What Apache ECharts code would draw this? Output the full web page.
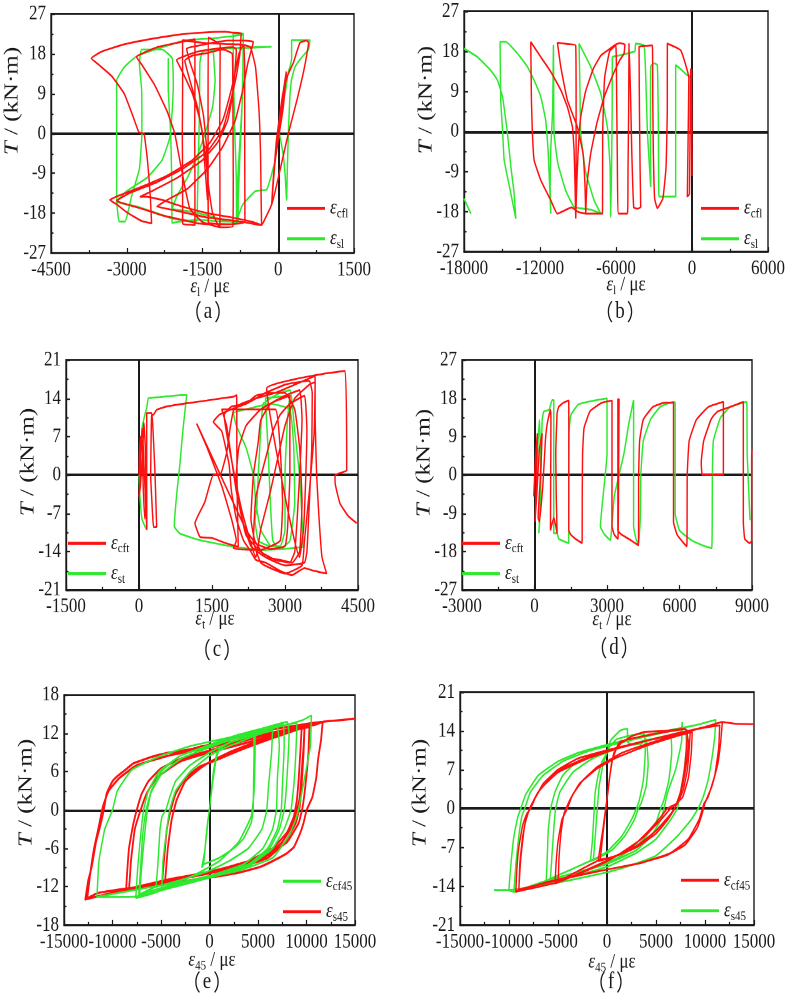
<!DOCTYPE html>
<html><head><meta charset="utf-8">
<script src="https://cdn.jsdelivr.net/npm/echarts@6/dist/echarts.min.js"></script>
<style>html,body{margin:0;padding:0;background:#fff}
#wrap{position:relative;width:788px;height:997px;overflow:visible}
#c{position:absolute;left:0;top:0;width:788px;height:798px;transform:scaleY(1.249373);transform-origin:0 0}</style>
</head><body><div id="wrap"><div id="c"></div></div>
<script>
// ---------- DATA ----------
const aCfl = [[0,0],[80,8],[160,14],[100,6],[-60,-6],[-130,-16],[-90,-9],[30,3],[140,12],[90,7],[-50,-4],[-110,-13],[-40,-2],[90,9],[180,13],[300,16],[430,20.5],[560,21],[600,20.5],[520,15],[380,8],[200,0],[60,-7],[-60,-13],[-130,-16],
[-250,-19],[-330,-20.7],[-450,-20.5],[-700,-20],[-1000,-19.5],[-1400,-19],[-1800,-18],[-2200,-17],[-2400,-16.5],[-2200,-15],[-1800,-12.5],[-1400,-8],[-1100,-3],[-850,3],[-700,10],[-600,16],[-495,20.7],
[-700,21],[-1000,21],[-1300,20.5],[-1600,19.8],[-1815,19.2],[-1760,16.5],[-1600,11],[-1480,4],[-1420,-3],[-1400,-10],[-1390,-15],[-1386,-20.5],
[-1600,-20.3],[-1900,-19.5],[-2300,-18.5],[-2700,-17],[-3000,-16],[-3200,-15.2],[-2950,-13.5],[-2400,-11],[-1900,-8],[-1400,-4],[-1100,1],[-950,7],[-830,13],[-760,18],[-735,22.6],
[-900,22.8],[-1056,23],[-1500,22.8],[-2000,22.3],[-2600,21.2],[-3100,20],[-3500,18.5],[-3700,17],[-3550,15.5],[-3300,13],[-3050,9],[-2880,4],[-2760,0.3],[-2660,0],[-2600,-5],[-2560,-10],[-2530,-15],[-2508,-20.3],
[-2700,-19.8],[-3000,-17.8],[-3200,-16],[-3333,-15],[-3150,-14],[-2700,-12],[-2200,-9.5],[-1700,-6],[-1350,-2],[-1100,3],[-950,9],[-850,14],[-780,18],[-700,20],
[-1000,20.2],[-1500,20.5],[-1894,21.1],[-1894,10],[-1900,0],[-1894,-10],[-1894,-20.4],
[-1750,-20.6],[-1650,-20.7],[-1650,-10],[-1655,0],[-1650,10],[-1650,21.3],
[-2000,20.5],[-2400,19.5],[-2805,17.3],[-2700,15.5],[-2450,11],[-2200,5],[-2050,0],[-1950,-6],[-1850,-12],[-1750,-17],[-1500,-20],[-1155,-21.2],
[-1155,-10],[-1160,0],[-1155,10],[-1150,20],[-1386,21.7],[-1390,5],[-1386,-20],[-1000,-20.5],[-660,-19.9],[-665,0],[-665,15],[-680,20],[-550,19.5],[-450,15],[-380,5],[-350,-5],[-340,-14],[-330,-20.7],
[-500,-20],[-900,-19],[-1400,-18],[-1900,-16.5],[-2300,-15],[-2600,-14.3],[-2739,-14.3],[-2500,-13],[-2000,-10],[-1500,-6],[-1200,-2],[-1000,3],[-900,9],[-850,15],[-830,19],[-900,19.5],[-1200,19.2],[-1600,18.5],[-2013,16.6],[-1900,14],[-1700,9],[-1550,3],[-1450,-4],[-1380,-12],[-1300,-18],[-1155,-21.2],
[-900,-21],[-891,-10],[-895,0],[-900,10],[-910,18],[-1100,19],[-1400,18.2],[-1700,17.6],[-1850,16.5],[-1750,12],[-1600,6],[-1500,0],[-1450,-8],[-1400,-15]];

const aSl = [[0,0],[80,6],[150,10],[200,14],[231,15],[265,17],[264,21.1],[450,21.1],[627,21.1],[600,19],[450,17],[330,15],[260,12],[231,8.4],[200,0],[180,-8],[165,-15],[140,-10],[100,-5],[20,0],[-60,-6],[-150,-10],[-231,-12.7],[-450,-13],
[-700,-16],[-800,-19],[-825,-20.3],[-830,-10],[-860,0],[-880,10],[-891,20],[-893,22.6],[-693,22.6],[-700,15],[-720,5],[-760,-5],[-792,-15],[-800,-20.3],
[-1100,-19.5],[-1400,-18.5],[-1800,-17.5],[-2100,-17],[-2000,-14],[-1800,-10],[-1600,-5],[-1450,0],[-1300,6],[-1250,12],[-1287,18.9],[-900,19.3],[-500,19.5],[-132,19.6],[-500,19.4],[-1000,19.2],[-1500,18.5],[-1551,16],[-1560,5],[-1580,-5],[-1600,-15],[-1617,-19.8],
[-1900,-19.5],[-2100,-19.2],[-2400,-18],[-2800,-16.5],[-3200,-15.4],[-3000,-13],[-2600,-10],[-2300,-6],[-2150,-1],[-2100,5],[-2080,10],[-2079,12],[-2100,17],[-2300,19],[-2706,19],[-2750,15.8],[-2706,10],[-2700,0],[-2750,-8],[-2900,-14],[-3036,-19.9],[-3150,-19.9],[-3200,-15],[-3200,-5],[-3200,5],[-3200,12],[-3050,15],[-2800,17.5],[-2300,19.5],[-1815,21.1],[-1300,21.5],[-900,22],[-693,22.4],
[-700,10],[-750,0],[-800,-10],[-820,-20],[-1200,-19.8],[-1600,-19.5],[-2000,-20],[-2100,-20.2],[-2110,-10],[-2130,0],[-2178,10],[-2178,17]];

const bCfl = [[0,-10],[-30,14],[-80,0],[-105,14],[-200,-14],[-368,-14.6],[-300,0],[-250,12],
[-894,18.2],[-1946,19.7],[-1950,5],[-2050,-8],[-2300,-15],[-2735,-17.2],[-2950,-15],[-3050,-5],[-3100,8],[-3130,19.3],
[-3600,19.2],[-4180,19],[-4150,5],[-4100,-8],[-4050,-16.9],[-4300,-17.3],[-4600,-17],[-4750,-5],[-4850,8],[-4970,19.7],
[-5000,5],[-5050,-8],[-5100,-18.4],[-5800,-18.4],[-5900,-5],[-5950,8],[-6020,19.3],
[-6500,18],[-6900,12],[-7050,0],[-7075,-18.4],[-8390,-18.4],[-8300,-12],[-8000,-5],[-7500,2],[-6900,8],[-6200,13],[-5700,16],[-5365,17.5],[-5300,19.5],[-5700,19.8],[-6000,19.5],
[-6500,18.5],[-7200,17],[-7800,14],[-8400,9],[-8800,3],[-9000,-5],[-9100,-12],[-9180,-19.5],
[-9150,-8],[-9150,5],[-9180,19.3],[-9800,19.6],[-10625,19.9],[-10360,14.5],[-9836,7],[-9046,1],[-8600,-5],[-8450,-12],[-8390,-18.4],
[-9000,-18],[-9500,-17],[-10630,-18.4],[-11150,-15.4],[-11940,-10.9],[-12466,-6.4],[-12600,-0.4],[-12676,7],[-12729,20.1],[-11940,16.7],[-11150,13.4],[-10360,9.3],[-9836,5.5],[-9440,1.0],[-9310,-4.2],[-9230,-12.4],[-9180,-19.5]];

const bSl = [[0,12.2],[-370,12.6],[-900,14],[-1290,14.9],[-1290,0],[-1290,-14.6],[-2000,-14.6],[-2600,-14.6],[-2650,0],[-2735,14.9],[-3000,15.3],[-3260,14.5],[-3280,0],[-3260,-12.4],[-3400,-6],[-3524,0],[-3650,12],[-3787,19.3],[-4450,19.7],[-4500,18],[-5100,17.5],[-5800,17],[-6286,16.7],[-6300,5],[-6350,-8],[-6417,-19.1],[-6470,-7.9],[-6680,1],[-7200,8.5],[-7995,14.5],[-8916,19.7],[-8850,10],[-8784,-0.4],[-8400,-9],[-7730,-15.4],[-7200,-18.4],[-8000,-17.5],[-9310,-16.9],[-10000,-13],[-10600,-7],[-10890,-0.4],[-10920,10],[-10940,19.3],[-11000,5],[-11150,-4],[-11200,-12.4],[-11150,-18.4],[-11360,-4.2],[-11550,2.5],[-11940,7.8],[-12470,11.5],[-12990,14.5],[-13780,17.5],[-14700,20.1],[-15150,20.1],[-15100,7],[-14950,0],[-14830,-6.4],[-14300,-13.9],[-13910,-19.5],[-14040,-13.9],[-14300,-7.9],[-14570,-0.4],[-14960,7.8],[-15360,11.5],[-15890,13.7],[-16940,16.7],[-18000,18.6],['-','-'],[-18000,-15],[-17460,-18.4]];

const cCft = [[0,0],[10,4],[30,7],[60,6],[90,-3],[120,-8],[140,-6],[100,2],[70,8.5],[40,6],[20,-1],[0,-4],[30,-2],[80,5],[100,9.5],[130,5],[160,-10],[158,0],[158,11.3],[260,11.3],[300,6],[330,0],[363,-9.5],[300,-9.5],[260,-4],[240,0],[260,11],[294,11],[363,11.9],[568,12.5],[980,13.1],[1390,13.6],[1700,14],[1940,14.3],[2007,14.6],[2010,5],[2020,-5],[2040,-13.1],
[1800,-12.5],[1500,-11.5],[1253,-11.3],[1150,-8.8],[1350,-5],[1527,0],[1665,0],[1800,4],[1880,9],[1950,12],[2100,13],[2400,14],[2800,15],[3200,16.5],[3617,18.1],[3620,10],[3650,0],[3700,-8],[3760,-15],[3856,-18],[3600,-17.5],[3400,-17],[3137,-18.3],[2900,-17.5],[2600,-16],[2400,-15.5],[2300,-14],[2150,-12],[2000,-8],[1900,-3],[1850,2],[1700,8],[1527,9.7],[1650,11],[1900,12],[2200,13],[2600,15],[3000,16.5],[3300,17],[3500,17.2],[3560,15],[3550,5],[3500,-5],[3450,-14],[3400,-16],
[3000,-16.5],[2600,-15],[2380,-12],[2300,-8],[2350,0],[2450,6],[2500,10],[2700,13],[3000,14.5],[3300,15.5],[3350,10],[3300,0],[3250,-8],[3200,-14],[3100,-16],[2800,-15.5],[2500,-14],[2200,-11],[2050,-5],[2000,0],[2050,5],[2200,9],[2500,12],[2800,13.5],[3100,14.5],[3100,0],[3050,-10],[3000,-13],[2700,-13.5],[2400,-12.5],[2200,-10],
[1185,9.4],[1400,5],[1700,-2],[1900,-8],[2000,-12],[1940,-13.4],[2487,-13.7],[2900,-12],[2950,-5],[2900,5],[2800,12],
[1700,12],[1800,9],[1900,3],[2000,-3],[2150,-9],[2300,-13],[2600,-15],[2900,-15.5],[3150,-16],[3300,-14],[3350,-5],[3300,5],[3200,12],[3000,15],[2700,15],[2400,14.5],[2200,13],[1900,12.5],[1750,11],
[2100,-6],[2400,-15],[2500,-10],[2700,-3],[2850,3],[3000,9],[3200,14],[3500,16.5],[3620,17],[3600,8],[3500,-3],[3400,-12],[3350,-16.5],[3000,-18],[2700,-17],[2500,-16],[2350,-12],[2400,-4],[2600,3],[2750,8],[2900,11],[3100,13],[3400,14.5],[3450,8],[3420,-2],[3380,-10],[3300,-15],
[2623,15.8],[3200,17.5],[3800,18.5],[4233,19],[4268,0.9],[4028,0],[4030,-1.5],[4130,-5.2],[4300,-7.5],[4473,-8.8]];

const cSt = [[0,0],[20,-4],[60,-8],[123,-9.4],[158,-10],[140,-5],[100,2],[55,8.2],[120,11],[158,12.2],[192,14],[400,14.2],[877,14.6],[980,14.6],[900,8],[842,2.1],[780,-3],[740,-7],[726,-9.4],[842,-10.7],[1253,-11.9],[1940,-13.1],[2555,-13.7],[3103,-13.4],[3300,-13.2],[3377,-13.1],[3350,-8],[3300,0],[3200,8],[3150,13],[3103,15.5],
[2900,15],[2700,14],[2550,13],[2500,8],[2450,0],[2420,-6],[2384,-8.2],[2450,-12],[2700,-13],[2900,-13],[3000,-10],[3000,0],[3050,10],[3100,14.5],
[2800,14.2],[2600,14],[2650,5],[2700,-5],[2750,-12],[2900,-13.5],[3100,-12],[3200,-5],[3180,5],[3100,12],
[2700,13],[2200,12],[1940,11.3],[2000,9],[2200,5],[2350,0],[2400,-5],[2500,-10],[2700,-13]];

const dCft = [[-30,-5],[40,4],[120,9.8],[80,0],[40,-8],[20,-11],[100,-4],[200,6],[316,9.8],[250,0],[150,-10],[200,-11],[350,-2],[450,8],[500,11],[560,13],[660,15.3],[680,13],[670,0],[660,-13],[700,-12],[800,-10],[935,-13.7],[900,-5],[880,5],[935,14.5],[1000,16],[1200,17],[1417,17.5],[1420,5],[1417,-13],[1500,-14],[1700,-15],[1968,-16],[1975,-5],[1990,5],[2050,11],[2300,15],[2800,17],[3206,17.5],[3206,0],[3206,-12],[3300,-14],[3450,-15],[3480,0],[3500,17.8],[3450,17.8],[3450,-13],[3600,-14],[3900,-15],[4300,-16.5],[4310,0],[4350,8],[4500,13],[4900,16],[5400,17],[5752,17],[5752,-11],[5900,-14],[6100,-15.5],[6302,-16.8],[6320,0],[6400,8],[6700,13],[7200,16],[7816,17.2],[7816,0],[6950,0],[6900,3],[7000,8],[7300,13],[7430,14.1],[7600,15],[8100,16],[8641,17.2],[8641,-11],[8700,-15],[8900,-16],[8985,-15.5],[8985,4.3],[9000,6]];

const dSt = [[100,2.7],[150,8],[200,12.9],[250,5],[220,-10],[180,-13.7],[250,-5],[316,12.9],[385,14.9],[600,15.3],[730,17.6],[798,17.6],[795,5],[798,-13.7],[935,-13.7],[1000,-15],[1417,-16],[1420,0],[1430,10],[1500,14],[1800,16.5],[2300,17.3],[3000,18],[3000,5],[2726,-12.1],[2900,-14],[3137,-15.3],[3300,-5],[3700,5],[3900,12],[4100,17.6],[4100,5],[4100,-12],[4200,-15],[4300,-16.3],[4380,-10],[4400,0],[4500,8],[4800,13],[5200,16],[5752,17.2],[5820,17],[5820,5],[5820,-9],[6000,-13],[6500,-15.3],[7000,-16.6],[7334,-17.2],[7360,0],[7400,8],[7700,13.5],[8100,16],[8779,17.2],[8800,5],[8917,-10.6]];

const eCf45 = [[-600,-8.5],[-400,-5],[-200,-2],[0,0],[200,3],[400,6],[700,8.5],[1000,9.5],[2000,10.5],[3500,11.3],[4500,11.8],[4600,10],[4550,5],[4500,0],[4300,-2],[3500,-4.5],[2500,-6],[1000,-7.5],[-600,-8.5],
[-800,-9],[-500,-6.5],[-100,-1],[300,4],[700,8],[1100,9.8],[2500,10.8],[4000,11.6],[4700,12],[4700,9],[4600,3],[4300,-1],[3000,-5],[1000,-8],[-2000,-10.5],[-5500,-12],
[-5300,-8],[-5100,-3],[-4900,-1],[-4700,-0.5],[-4500,0],[-4100,2],[-3500,4.5],[-2000,7],[0,9],[2000,10.5],[4000,11.5],[6000,12.5],[7000,13],[7200,10],[7000,5],[6900,0],[6500,-3],[5500,-6],[3500,-8.5],[0,-10.3],[-3000,-11.3],[-5500,-12],
[-7200,-13.2],[-7000,-9],[-6700,-4],[-6400,0],[-6000,3],[-5000,6],[-3000,8.5],[0,10],[3000,11.5],[6000,12.7],[7600,13.4],[7700,10],[7550,5],[7400,0],[7000,-3],[6000,-6],[4000,-8.5],[0,-10.3],[-4000,-11.8],[-7200,-13.2],
[-7600,-13.8],[-7400,-9],[-7100,-4],[-6800,0],[-6300,3],[-5200,6],[-3000,8.5],[0,10.2],[3000,11.8],[6000,13],[8000,13.8],[8200,12],[8100,8],[7900,3],[7700,0],[7200,-3],[6200,-6],[4000,-8.7],[0,-10.5],[-4000,-12],[-7600,-13.8],
[-5000,-12.5],[-4800,-8],[-4400,-3],[-4100,0],[-3500,3],[-2000,6],[0,8.5],[2000,10],[5000,11.8],[6500,12.5],[6400,9],[6100,4],[5900,0],[5400,-3],[4000,-6],[2000,-8],[0,-9.5],[-3000,-11],[-5000,-12.5],
[-7300,-13.5],[-7100,-9],[-6900,-4],[-6600,-0.5],[-6100,2.5],[-5000,5.5],[-3000,8],[0,9.8],[3000,11.4],[6000,12.6],[8800,13.6],[9000,13.5],[8900,9],[8700,4],[8400,0],[7700,-3],[6500,-6],[4000,-8.8],[0,-10.6],[-4000,-12.2],[-7300,-13.5],
[-11600,-13.6],[-11400,-8],[-10800,-3],[-10000,0],[-9500,3],[-8000,6.3],[-5000,8.5],[-2000,10],[1000,11],[4000,12],[7000,13],[9500,14],[10500,14.8],[10400,10],[9800,5],[9300,1],[9000,-1],[8200,-4],[6500,-7.5],[3000,-9.5],[0,-10.5],[-4000,-11.5],[-8000,-12.6],[-11600,-13.6]];

const eS45 = [[-4900,-11.6],[-4700,-8],[-4400,-3],[-4000,0],[-3500,2.5],[-2500,5],[-1000,6.8],[1000,8],[3500,9.6],[6000,11],[8500,12.3],[9500,12.8],[9400,10],[9200,5],[9000,1.5],[8700,-1],[8000,-3.5],[6500,-6],[4000,-8],[1000,-9.3],[-2000,-10.3],[-4900,-11.6],
[-4600,-11.3],[-4300,-6],[-3900,-1.5],[-3400,1.5],[-2500,4.5],[-1000,6.5],[0,7.5],[2000,9],[5000,10.8],[8000,12.2],[9800,13],[9700,9],[9500,4],[9300,0.5],[8900,-2],[7800,-5],[6000,-7.5],[3000,-9],[0,-9.9],[-3000,-10.8],[-4600,-11.3],
[-8600,-12.6],[-8500,-10],[-8300,-6],[-7900,-2.5],[-7500,0],[-7000,2.5],[-6300,4.5],[-5000,6.5],[-3000,8],[0,9.3],[3000,10.6],[6000,11.8],[8500,12.8],[9800,13.2],[9700,10],[9500,6],[9300,2],[9000,0],[8500,-2.5],[7500,-5],[6000,-7],[3500,-8.7],[0,-9.8],[-4000,-11],[-8600,-12.6],
[-8300,-12.3],[-8100,-8],[-7700,-3],[-7100,0],[-6500,2.5],[-5500,5],[-3000,7.6],[0,9],[4000,10.6],[8000,12.3],[10300,13],[10200,9],[9900,4],[9600,0.5],[9200,-2],[8000,-5],[5500,-7.5],[1000,-9.4],[-4000,-10.8],[-8300,-12.3],
[-12800,-14],[-12500,-11],[-12146,-8.9],[-11700,-5],[-11287,-2.6],[-10900,0],[-10600,2.6],[-10000,4.5],[-9569,5.2],[-8500,6.5],[-7851,7.3],[-6000,8.3],[-4415,8.9],[-2000,9.5],[-979,9.9],[1000,10.5],[2457,11.2],[4000,11.9],[5893,12.5],[8000,13],[9329,13.3],[10500,13.6],[11665,13.8],[11500,11],[11200,8],[11000,5],[10600,2],[10015,0],[9700,-2],[9329,-3.7],[8700,-5.8],[7955,-6.8],[6500,-8],[5206,-8.9],[3000,-9.8],[739,-10.4],[-2000,-11],[-4415,-11.5],[-7000,-12],[-9569,-12.5],[-11500,-13],[-12800,-14],
[-12600,-13.6],[-12300,-10],[-11900,-6],[-11400,-2.5],[-11000,0.5],[-10400,3],[-9300,5],[-7500,7],[-4000,8.6],[0,9.8],[4000,11.3],[8000,12.6],[11000,13.4],[11665,13.8],[13000,14],[15000,14.3]];

const fCf45 = [[-900,-9.5],[-700,-7],[-400,-3.5],[-136,0],[100,3],[300,6],[700,10],[1394,11.7],[2500,13],[3775,13.8],[6000,14],[7855,14.4],[8200,14],[8100,11],[7900,7],[7500,3],[6900,0],[6200,-2],[5000,-4.5],[3000,-7],[1000,-8.5],[-900,-9.5],
[-700,-9.2],[-500,-6],[-250,-2],[-100,0],[150,4],[500,8.5],[1000,11],[1300,12],[2500,12.6],[5000,13.5],[8000,14.3],[8300,12],[8100,8],[7700,4],[7200,1],[6500,-1],[5000,-4],[3000,-6.8],[500,-8.8],[-700,-9.2],
[-5300,-13.5],[-5200,-10],[-5000,-6],[-4600,-2],[-4050,0],[-3500,2.5],[-2500,5],[-1000,7.5],[0,8.5],[1500,10],[3000,11],[6000,12.7],[8000,13.6],[8500,14],[8400,11],[8200,7],[7800,3.5],[7200,1],[6156,0],[5500,-1.5],[4000,-4.5],[2500,-7],[0,-9.5],[-2500,-11.5],[-5300,-13.5],
[-5000,-13.3],[-4900,-9],[-4700,-4.5],[-4400,-1],[-3800,1.5],[-2800,4.5],[-1000,7.2],[1000,9.2],[4000,11.3],[7000,13],[8700,13.8],[8600,10],[8300,5.5],[7700,2],[6500,0],[5500,-2],[3500,-5.5],[1000,-8.5],[-2000,-11],[-5000,-13.3],
[-9300,-15],[-9200,-11],[-9000,-7],[-8600,-3],[-8200,-1],[-7800,0],[-7300,2],[-6500,4.5],[-5000,7],[-3000,9],[0,10.5],[3000,11.8],[6000,13],[9000,14.2],[11770,15.6],[11600,12],[11300,8],[10700,4],[10000,1],[9700,-1],[9200,-3.5],[8000,-6.5],[6000,-8.5],[3000,-10],[0,-11],[-3000,-12],[-6000,-13.2],[-9300,-15],
[-9000,-14.6],[-8900,-10],[-8600,-5],[-8200,-1.5],[-7600,1],[-6800,3.5],[-5000,6.5],[-2000,9],[1000,10.8],[4000,12.2],[7000,13.5],[10000,14.6],[11500,15],[11400,11],[11000,6],[10300,2],[9900,0.9],[9400,-2],[8300,-5.5],[6500,-8],[3500,-9.8],[0,-11],[-4000,-12.5],[-9000,-14.6],
[-8800,-9],[-8400,-3],[-7900,0],[-7000,3],[-5000,6.8],[-2000,9.2],[1000,10.8],[4000,12.2],[7000,13.5],[10000,14.7],[11770,15.6],[13000,15.3],[15000,15.2]];

const fS45 = [[-1700,-9.5],[-1500,-6],[-1330,-1],[-1200,3],[-900,6],[-500,8.5],[0,10],[374,12.3],[1394,14.1],[2075,14.4],[2100,12],[2500,11.5],[3500,11.7],[4000,12.5],[4200,8],[4000,4],[3500,1],[3200,0],[2800,-2],[1800,-5],[500,-7.5],[-1000,-9],[-1700,-9.5],
[-1400,-9.2],[-1200,-5],[-990,0],[-800,4],[-400,8],[200,11],[1000,12.5],[2500,13.2],[3800,13.5],[3900,10],[3700,5],[3300,1.5],[3000,0],[2500,-2],[1500,-5],[0,-7.8],[-1400,-9.2],
[-6200,-13],[-6100,-9],[-6000,-4],[-5750,0],[-5300,3],[-4500,6],[-3000,8.5],[0,10.3],[2500,11.5],[5000,12.7],[7500,13.8],[7680,15.6],[7600,12],[7000,7],[6200,3],[5815,0],[5500,-2],[4500,-5],[3000,-7.5],[0,-10],[-3000,-11.5],[-6200,-13],
[-5800,-12.8],[-5600,-8],[-5400,-3],[-5240,0],[-4800,3],[-3500,6.5],[-1500,9],[1000,10.8],[4000,12.3],[6500,13],[6600,10],[6300,5],[5800,1.5],[5475,0],[5000,-2.5],[3500,-6],[1000,-9],[-2000,-11],[-5800,-12.8],
[-9500,-15],[-9300,-10],[-9000,-5],[-8700,-1.5],[-8400,0],[-7800,3],[-6500,6],[-4500,8.5],[-2000,10.3],[1000,11.7],[4000,13],[7000,14.2],[8000,14.6],[8100,11],[7800,6],[7400,2],[7175,0],[6500,-2],[5000,-5.5],[3000,-8],[0,-10.5],[-4000,-12.5],[-9500,-15],
[-10000,-14.7],[-9800,-10],[-9500,-5],[-9100,-1.5],[-8800,0],[-8300,2.5],[-7000,6],[-5000,8.5],[-3000,10],[0,11.5],[3000,12.8],[6000,14],[9000,15],[11090,16],[11000,13],[10700,9],[10300,5],[9800,2],[9300,0],[8600,-2],[7175,-5],[5000,-8.5],[2000,-10.5],[0,-11.5],[-4000,-13],[-8000,-14.2],[-10000,-14.7],[-11530,-14.7]];

// axis ranges [min, max, interval]
const xRangeA = [-4500, 1500, 1500], yRangeA = [-27, 27, 9];
const xRangeB = [-18000, 6000, 6000], yRangeB = [-27, 27, 9];
const xRangeC = [-1500, 4500, 1500], yRangeC = [-21, 21, 7];
const xRangeD = [-3000, 9000, 3000], yRangeD = [-27, 27, 9];
const xRangeE = [-15000, 15000, 5000], yRangeE = [-18, 18, 6];
const xRangeF = [-15000, 15000, 5000], yRangeF = [-21, 21, 7];

// ---------- LAYOUT / STYLE ----------
// The original figure is stretched vertically; the chart is drawn 798 px tall and CSS stretches it to 997 px.
const CH = 798, SY = 997 / CH;
const RED = '#ff1010', GREEN = '#2ee82e';
const FONT = '"Liberation Serif","Times New Roman",serif';
const CJKF = '"Noto Sans CJK SC","Noto Sans CJK JP",sans-serif';
const v = y => y / SY;

const panels = [
 {grid:{left:51,top:v(14),width:303,height:v(239)}, xr:xRangeA, yr:yRangeA,
  ser:[{n:'a_cfl',d:aCfl,c:RED,sub:'cfl',z:3},{n:'a_sl',d:aSl,c:GREEN,sub:'sl',z:2}], leg:[287,v(207)],
  xsub:'l', xName:[210,v(287)], yName:[12,v(101)], cap:['a',208,v(312)]},
 {grid:{left:464,top:v(11),width:304,height:v(241)}, xr:xRangeB, yr:yRangeB,
  ser:[{n:'b_cfl',d:bCfl,c:RED,sub:'cfl',z:3},{n:'b_sl',d:bSl,c:GREEN,sub:'sl',z:2}], leg:[701,v(207)],
  xsub:'l', xName:[626,v(285)], yName:[426,v(100)], cap:['b',620,v(312)]},
 {grid:{left:66,top:v(360),width:292,height:v(230)}, xr:xRangeC, yr:yRangeC,
  ser:[{n:'c_cft',d:cCft,c:RED,sub:'cft',z:3},{n:'c_st',d:cSt,c:GREEN,sub:'st',z:2}], leg:[68,v(542)],
  xsub:'t', xName:[215,v(619)], yName:[28,v(462)], cap:['c',217,v(650)]},
 {grid:{left:462,top:v(360),width:290,height:v(230)}, xr:xRangeD, yr:yRangeD,
  ser:[{n:'d_cft',d:dCft,c:RED,sub:'cft',z:3},{n:'d_st',d:dSt,c:GREEN,sub:'st',z:2}], leg:[462,v(542)],
  xsub:'t', xName:[612,v(620)], yName:[424,v(463)], cap:['d',614,v(648)]},
 {grid:{left:64,top:v(695),width:291,height:v(230)}, xr:xRangeE, yr:yRangeE,
  ser:[{n:'e_s45',d:eS45,c:RED,sub:'s45',z:2,w:1.8},{n:'e_cf45',d:eCf45,c:GREEN,sub:'cf45',z:3}], legOrder:['e_cf45','e_s45'], leg:[283,v(880)],
  xsub:'45', xName:[212,v(960)], yName:[26,v(793)], cap:['e',207,v(982)]},
 {grid:{left:460,top:v(692),width:294,height:v(233)}, xr:xRangeF, yr:yRangeF,
  ser:[{n:'f_cf45',d:fCf45,c:RED,sub:'cf45',z:3},{n:'f_s45',d:fS45,c:GREEN,sub:'s45',z:2}], legOrder:['f_cf45','f_s45'], leg:[681,v(879)],
  xsub:'45', xName:[612,v(962)], yName:[420,v(793)], cap:['f',611,v(982)]}
];

const subs = {};
panels.forEach(p => p.ser.forEach(s => subs[s.n] = s.sub));

const ROWH = 18, ROWGAP = v(28);
const grids = [], xAxes = [], yAxes = [], series = [], legends = [], graphics = [];
const tickCommon = () => ({
  axisLine:{show:true, onZero:false, lineStyle:{color:'#1a1a1a', width:1.4}},
  axisTick:{show:true, inside:true, length:4, lineStyle:{color:'#1a1a1a', width:1.2}},
  minorTick:{show:true, splitNumber:2, length:2.5, lineStyle:{color:'#1a1a1a', width:1.2}},
  splitLine:{show:false},
  axisLabel:{fontFamily:FONT, fontSize:17, color:'#1a1a1a', margin:5, showMinLabel:true, showMaxLabel:true,
    hideOverlap:false, interval:0, formatter: val => String(val)}
});

panels.forEach((p, i) => {
  grids.push(Object.assign({show:true, borderColor:'#1a1a1a', borderWidth:1.4, backgroundColor:'#fff', containLabel:false}, p.grid));
  xAxes.push(Object.assign({type:'value', gridIndex:i, position:'bottom', min:p.xr[0], max:p.xr[1], interval:p.xr[2]}, tickCommon()));
  yAxes.push(Object.assign({type:'value', gridIndex:i, position:'left', min:p.yr[0], max:p.yr[1], interval:p.yr[2]}, tickCommon()));
  p.ser.forEach((s, k) => {
    const ser = {
      name:s.n, type:'line', xAxisIndex:i, yAxisIndex:i, data:s.d, color:s.c,
      showSymbol:false, symbol:'none', smooth:0.12, clip:true, z:s.z, animation:false,
      lineStyle:{color:s.c, width:s.w || 1.45}, emphasis:{disabled:true}
    };
    if (k === 0) {
      ser.markLine = {silent:true, symbol:['none','none'], label:{show:false}, animation:false, z:1,
        lineStyle:{color:'#1a1a1a', type:'solid'},
        data:[{xAxis:0, lineStyle:{color:'#1a1a1a', width:2, type:'solid'}}, {yAxis:0, lineStyle:{color:'#1a1a1a', width:2, type:'solid'}}]};
    }
    series.push(ser);
  });
  legends.push({
    data:p.legOrder || p.ser.map(s => s.n), orient:'vertical', left:p.leg[0], top:p.leg[1] - ROWH / 2, padding:0,
    itemWidth:38, itemHeight:2.4, itemGap:ROWGAP - ROWH, icon:'rect', selectedMode:false,
    formatter: n => '{e|ε}{s|' + subs[n] + '}',
    textStyle:{color:'#1a1a1a', rich:{
      e:{fontFamily:FONT, fontStyle:'italic', fontSize:17, color:'#1a1a1a', lineHeight:ROWH},
      s:{fontFamily:FONT, fontSize:11, color:'#1a1a1a', padding:[9,0,0,0], lineHeight:ROWH}
    }}
  });
  graphics.push({type:'text', x:p.cap[1], y:p.cap[2], silent:true,
    style:{text:'{p|（}{l|' + p.cap[0] + '}{p|）}', align:'center', verticalAlign:'middle',
      rich:{p:{fontFamily:CJKF, fontSize:18, fill:'#1a1a1a'}, l:{fontFamily:FONT, fontSize:19, fill:'#1a1a1a', padding:[0,2,0,2]}}}});
  graphics.push({type:'text', x:p.xName[0], y:p.xName[1], silent:true,
    style:{text:'{e|ε}{s|' + p.xsub + '}{n| / με}', align:'center', verticalAlign:'middle',
      rich:{e:{fontFamily:FONT, fontStyle:'italic', fontSize:17, fill:'#1a1a1a'},
            s:{fontFamily:FONT, fontSize:11, fill:'#1a1a1a', padding:[9,0,0,0]},
            n:{fontFamily:FONT, fontSize:17, fill:'#1a1a1a'}}}});
  graphics.push({type:'text', x:p.yName[0], y:p.yName[1], rotation:Math.PI/2, silent:true,
    style:{text:'{i|T}{n| / (kN·m)}', align:'center', verticalAlign:'middle',
      rich:{i:{fontFamily:FONT, fontStyle:'italic', fontSize:20, fill:'#1a1a1a'},
            n:{fontFamily:FONT, fontSize:20, fill:'#1a1a1a'}}}});
});

const chart = echarts.init(document.getElementById('c'), null, {renderer:'canvas', devicePixelRatio:2, width:788, height:CH});
chart.setOption({
  backgroundColor:'#ffffff', animation:false,
  grid:grids, xAxis:xAxes, yAxis:yAxes, series:series, legend:legends, graphic:graphics
});
</script>
</body></html>
